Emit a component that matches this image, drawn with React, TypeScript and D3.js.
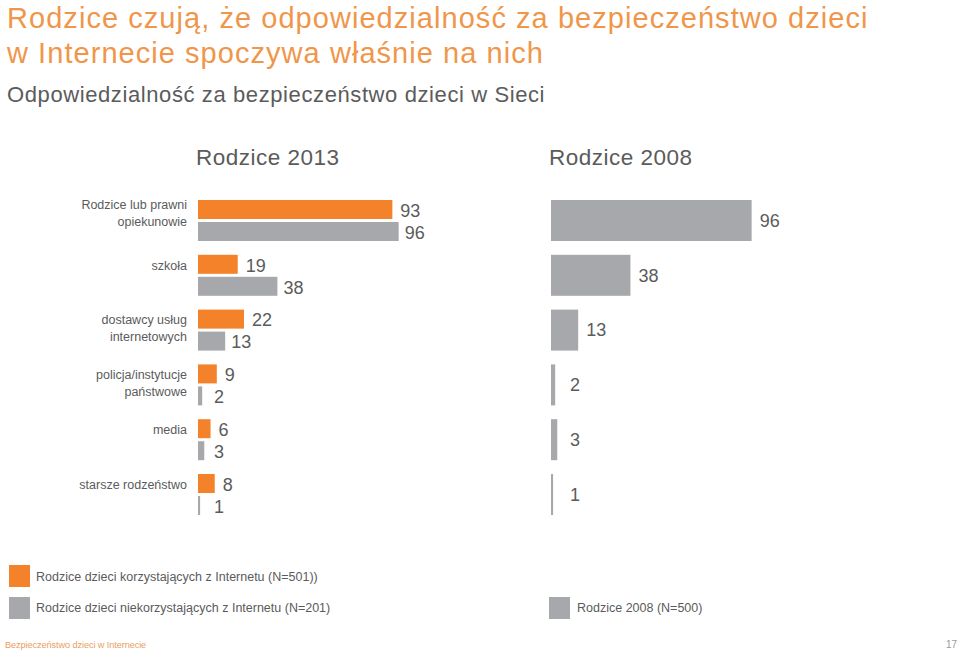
import React from "react";
import * as d3 from "d3";

const categories: string[][] = [
  ["Rodzice lub prawni", "opiekunowie"],
  ["szkoła"],
  ["dostawcy usług", "internetowych"],
  ["policja/instytucje", "państwowe"],
  ["media"],
  ["starsze rodzeństwo"],
];
const users2013 = [93, 19, 22, 9, 6, 8];
const nonUsers2013 = [96, 38, 13, 2, 3, 1];
const parents2008 = [96, 38, 13, 2, 3, 1];

const titleLines = [
  "Rodzice czują, że odpowiedzialność za bezpieczeństwo dzieci",
  "w Internecie spoczywa właśnie na nich",
];
const subtitle = "Odpowiedzialność za bezpieczeństwo dzieci w Sieci";
const panelTitles = ["Rodzice 2013", "Rodzice 2008"];
const legendItems = [
  "Rodzice dzieci korzystających z Internetu (N=501))",
  "Rodzice dzieci niekorzystających z Internetu (N=201)",
  "Rodzice 2008 (N=500)",
];
const footerText = "Bezpieczeństwo dzieci w Internecie";
const pageNumber = "17";

const ORANGE = "#F4822A";
const GRAY = "#A7A8AB";
const TEXT = "#5B5B5B";
const FONT = "'Liberation Sans', Arial, Helvetica, sans-serif";

export default function App() {
  const W = 959;
  const H = 651;
  const keys = categories.map((_, i) => String(i));

  const y = d3.scaleBand<string>().domain(keys).range([200, 515]).paddingInner(0.252).paddingOuter(0).align(0);
  const sub = d3.scaleBand<string>().domain(["o", "g"]).range([0, y.bandwidth()]).paddingInner(0.136);

  const xL = d3.scaleLinear().domain([0, 100]).range([198, 407]);
  const xR = d3.scaleLinear().domain([0, 100]).range([551, 760]);

  const labelX = (sc: d3.ScaleLinear<number, number>, v: number, gap: number, minOff: number) =>
    Math.max(sc(v) + gap, sc(0) + minOff);

  return (
    <div style={{ position: "absolute", left: 0, top: 0 }}>
      <svg width={W} height={H} style={{ display: "block", fontFamily: FONT }}>
        <rect width={W} height={H} fill="#fff" />
        {titleLines.map((t, i) => (
          <text key={t} x={7} y={28 + i * 35} fontSize={29} letterSpacing={1.05} fill="#F0964A">
            {t}
          </text>
        ))}
        <text x={7} y={102} fontSize={22} letterSpacing={0.6} fill={TEXT}>
          {subtitle}
        </text>
        <text x={xL(0) - 2} y={165} fontSize={22.5} letterSpacing={0.5} fill={TEXT}>
          {panelTitles[0]}
        </text>
        <text x={xR(0) - 2} y={165} fontSize={22.5} letterSpacing={0.5} fill={TEXT}>
          {panelTitles[1]}
        </text>

        {categories.map((lines, i) => {
          const y0 = y(String(i))!;
          const oy = y0 + sub("o")!;
          const gy = y0 + sub("g")!;
          const bw = sub.bandwidth();
          const oc = oy + bw / 2;
          const lineTop = lines.length > 1 && i === 0 ? oc - 5 : oc + 1;
          return (
            <g key={i}>
              {lines.map((l, j) => (
                <text
                  key={l}
                  x={187}
                  y={lineTop + j * 17}
                  dy="0.35em"
                  textAnchor="end"
                  fontSize={12.5}
                  fill={TEXT}
                >
                  {l}
                </text>
              ))}
              <rect x={xL(0)} y={oy} width={xL(users2013[i]) - xL(0)} height={bw} fill={ORANGE} />
              <rect x={xL(0)} y={gy} width={xL(nonUsers2013[i]) - xL(0)} height={bw} fill={GRAY} />
              <text x={labelX(xL, users2013[i], 8, 16)} y={oc + 1} dy="0.35em" fontSize={18} fill={TEXT}>
                {users2013[i]}
              </text>
              <text x={labelX(xL, nonUsers2013[i], 6, 16)} y={gy + bw / 2 + 1} dy="0.35em" fontSize={18} fill={TEXT}>
                {nonUsers2013[i]}
              </text>
              <rect x={xR(0)} y={y0} width={xR(parents2008[i]) - xR(0)} height={y.bandwidth()} fill={GRAY} />
              <text
                x={labelX(xR, parents2008[i], 8, 19)}
                y={y0 + y.bandwidth() / 2}
                dy="0.35em"
                fontSize={18}
                fill={TEXT}
              >
                {parents2008[i]}
              </text>
            </g>
          );
        })}

        {/* legend */}
        <rect x={9} y={565} width={21} height={22} fill={ORANGE} />
        <text x={36} y={577} dy="0.35em" fontSize={12.5} fill={TEXT}>
          {legendItems[0]}
        </text>
        <rect x={9} y={597} width={21} height={22} fill={GRAY} />
        <text x={36} y={608} dy="0.35em" fontSize={12.5} fill={TEXT}>
          {legendItems[1]}
        </text>
        <rect x={549} y={597} width={21} height={22} fill={GRAY} />
        <text x={577} y={608} dy="0.35em" fontSize={12.5} fill={TEXT}>
          {legendItems[2]}
        </text>

        <text x={5} y={648} fontSize={9.2} letterSpacing={-0.1} fill="#E9A060">
          {footerText}
        </text>
        <text x={957} y={648} textAnchor="end" fontSize={10} fill="#9A9A9A">
          {pageNumber}
        </text>
      </svg>
    </div>
  );
}
